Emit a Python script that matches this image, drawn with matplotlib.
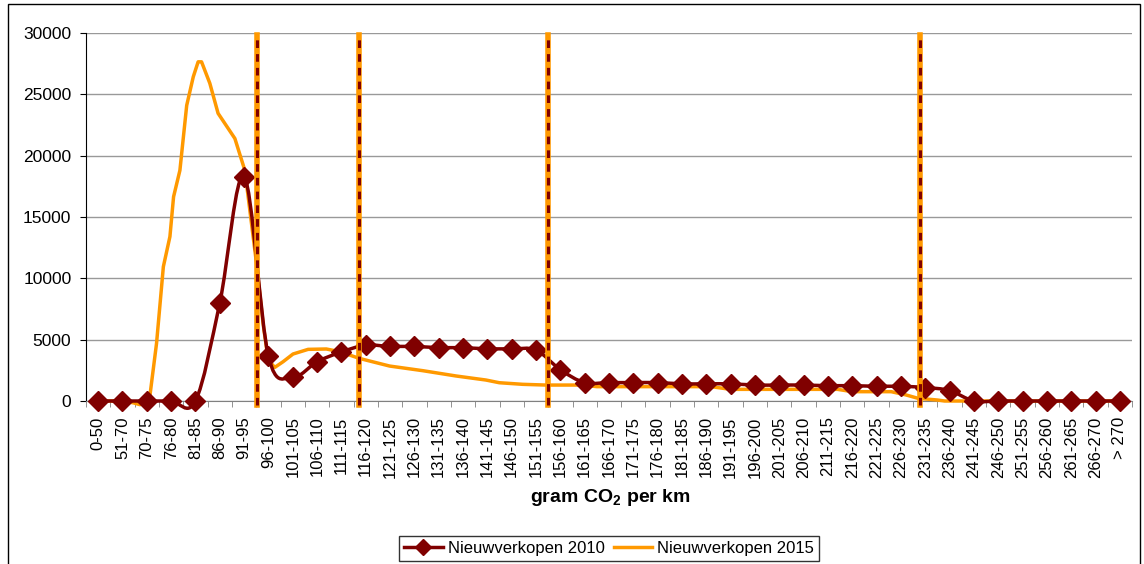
import matplotlib.pyplot as plt
import numpy as np
from matplotlib.path import Path
from matplotlib.patches import PathPatch, Rectangle
from matplotlib.lines import Line2D

plt.rcParams['font.family'] = ['Liberation Sans', 'DejaVu Sans']
plt.rcParams['mathtext.fontset'] = 'custom'
plt.rcParams['mathtext.rm'] = 'Liberation Sans'
plt.rcParams['mathtext.bf'] = 'Liberation Sans:bold'

# CO2 klassen (gram per km)
klassen = ['0-50', '51-70', '70-75', '76-80', '81-85', '86-90', '91-95',
           '96-100', '101-105', '106-110', '111-115', '116-120', '121-125',
           '126-130', '131-135', '136-140', '141-145', '146-150', '151-155',
           '156-160', '161-165', '166-170', '171-175', '176-180', '181-185',
           '186-190', '191-195', '196-200', '201-205', '206-210', '211-215',
           '216-220', '221-225', '226-230', '231-235', '236-240', '241-245',
           '246-250', '251-255', '256-260', '261-265', '266-270', '> 270']

verkopen_2010 = [0, 0, 0, 0, 0, 8000, 18300, 3650, 1950, 3200, 4000, 4550,
                 4450, 4450, 4350, 4350, 4250, 4250, 4150, 2550, 1500, 1500,
                 1500, 1500, 1400, 1400, 1400, 1300, 1300, 1300, 1250, 1250,
                 1200, 1200, 1100, 850, 0, 0, 0, 0, 0, 0, 0]

# 2015: fijnere verdeling, positie in klasse-eenheden
pos_2015 = [0, 1.0, 1.45, 1.72, 2.1, 2.4, 2.68, 2.95, 3.1, 3.36, 3.64, 3.91,
            4.11, 4.25, 4.59, 4.93, 5.62, 6.03, 6.51, 6.78, 6.99, 7.26, 7.6,
            8.01, 8.63, 9.38, 9.93, 10.61, 10.88, 11.98, 13.35, 14.71, 15.94,
            16.49, 17.45, 18.4, 19.9, 20.5, 25.2, 26.0, 30.4, 31.0, 32.6,
            33.2, 33.7, 34.5, 34.8, 42]
verkopen_2015 = [0, 0, -150, -300, 0, 4700, 10950, 13400, 16650, 18800,
                 24100, 26430, 27650, 27650, 25900, 23450, 21400, 18800,
                 11200, 6300, 3340, 2740, 3200, 3830, 4210, 4240, 4020, 3560,
                 3400, 2850, 2470, 2040, 1710, 1490, 1360, 1300, 1300, 1170,
                 1170, 950, 950, 760, 760, 500, 220, 80, 0, 0]

# grenzen (posities in klasse-eenheden)
grenzen = [6.53, 10.72, 18.5, 33.8]

donkerrood = '#800000'
oranje = '#FF9900'

fig = plt.figure(figsize=(11.44, 5.64), dpi=100)
fig.patches.append(Rectangle((8 / 1144, -0.1), 1132 / 1144, 1.1 - 4 / 564,
                             transform=fig.transFigure, fill=False,
                             edgecolor='black', lw=1))
ax = fig.add_axes([86 / 1144, 1 - 401 / 564, 1046 / 1144, 368 / 564])

x = np.arange(len(klassen))
y = np.array(verkopen_2010, dtype=float)

# gladde lijn (bezier) door de punten van 2010
pts = np.column_stack([x, y])
ext = np.vstack([pts[0], pts, pts[-1]])
verts = [tuple(pts[0])]
codes = [Path.MOVETO]
for i in range(len(pts) - 1):
    p0, p1, p2, p3 = ext[i], ext[i + 1], ext[i + 2], ext[i + 3]
    c1 = p1 + (p2 - p0) / 6
    c2 = p2 - (p3 - p1) / 6
    verts += [tuple(c1), tuple(c2), tuple(p2)]
    codes += [Path.CURVE4] * 3

ax.grid(axis='y', color='#999999', lw=1)
ax.set_axisbelow(True)

ax.plot(pos_2015, verkopen_2015, color=oranje, lw=2.5, clip_on=False, zorder=3)
ax.add_patch(PathPatch(Path(verts, codes), fill=False, edgecolor=donkerrood,
                       lw=2.5, clip_on=False, zorder=4))
ax.plot(x, y, ls='none', marker='D', ms=10, color=donkerrood,
        clip_on=False, zorder=5)

for g in grenzen:
    ax.plot([g, g], [-300, 29800], color=oranje, lw=4, clip_on=False, zorder=6)
    ax.plot([g, g], [-300, 29800], color=donkerrood, lw=2.2, dashes=(2.5, 2),
            clip_on=False, zorder=7)

ax.set_xlim(-0.5, len(klassen) - 0.5)
ax.set_ylim(0, 30000)
ax.set_yticks(range(0, 30001, 5000))
ax.set_xticks(x)
ax.set_xticklabels(klassen, rotation=90)
ax.set_xticks(np.arange(-0.5, len(klassen), 1), minor=True)
ax.tick_params(axis='x', which='major', length=0, pad=11, labelsize=12)
ax.tick_params(axis='x', which='minor', length=4, color='#808080')
ax.tick_params(axis='y', length=4, pad=6.5, labelsize=12.5)

for s in ['top', 'right']:
    ax.spines[s].set_visible(False)
ax.spines['bottom'].set_color('#808080')
ax.spines['left'].set_color('black')

fig.text(610 / 1144, 1 - 497 / 564, r'gram CO$_{\mathbf{2}}$ per km',
         ha='center', va='center', fontsize=14, fontweight='bold')

handles = [Line2D([], [], color=donkerrood, lw=2.5, marker='D', ms=8),
           Line2D([], [], color=oranje, lw=2.5)]
fig.legend(handles, ['Nieuwverkopen 2010', 'Nieuwverkopen 2015'],
           loc='center', bbox_to_anchor=(609 / 1144, 1 - 548 / 564), ncol=2,
           fontsize=12, frameon=True, fancybox=False, edgecolor='black',
           handlelength=2.3, columnspacing=0.55, handletextpad=0.3,
           borderpad=0.3, borderaxespad=0)

fig.savefig('out.png', dpi=100)
